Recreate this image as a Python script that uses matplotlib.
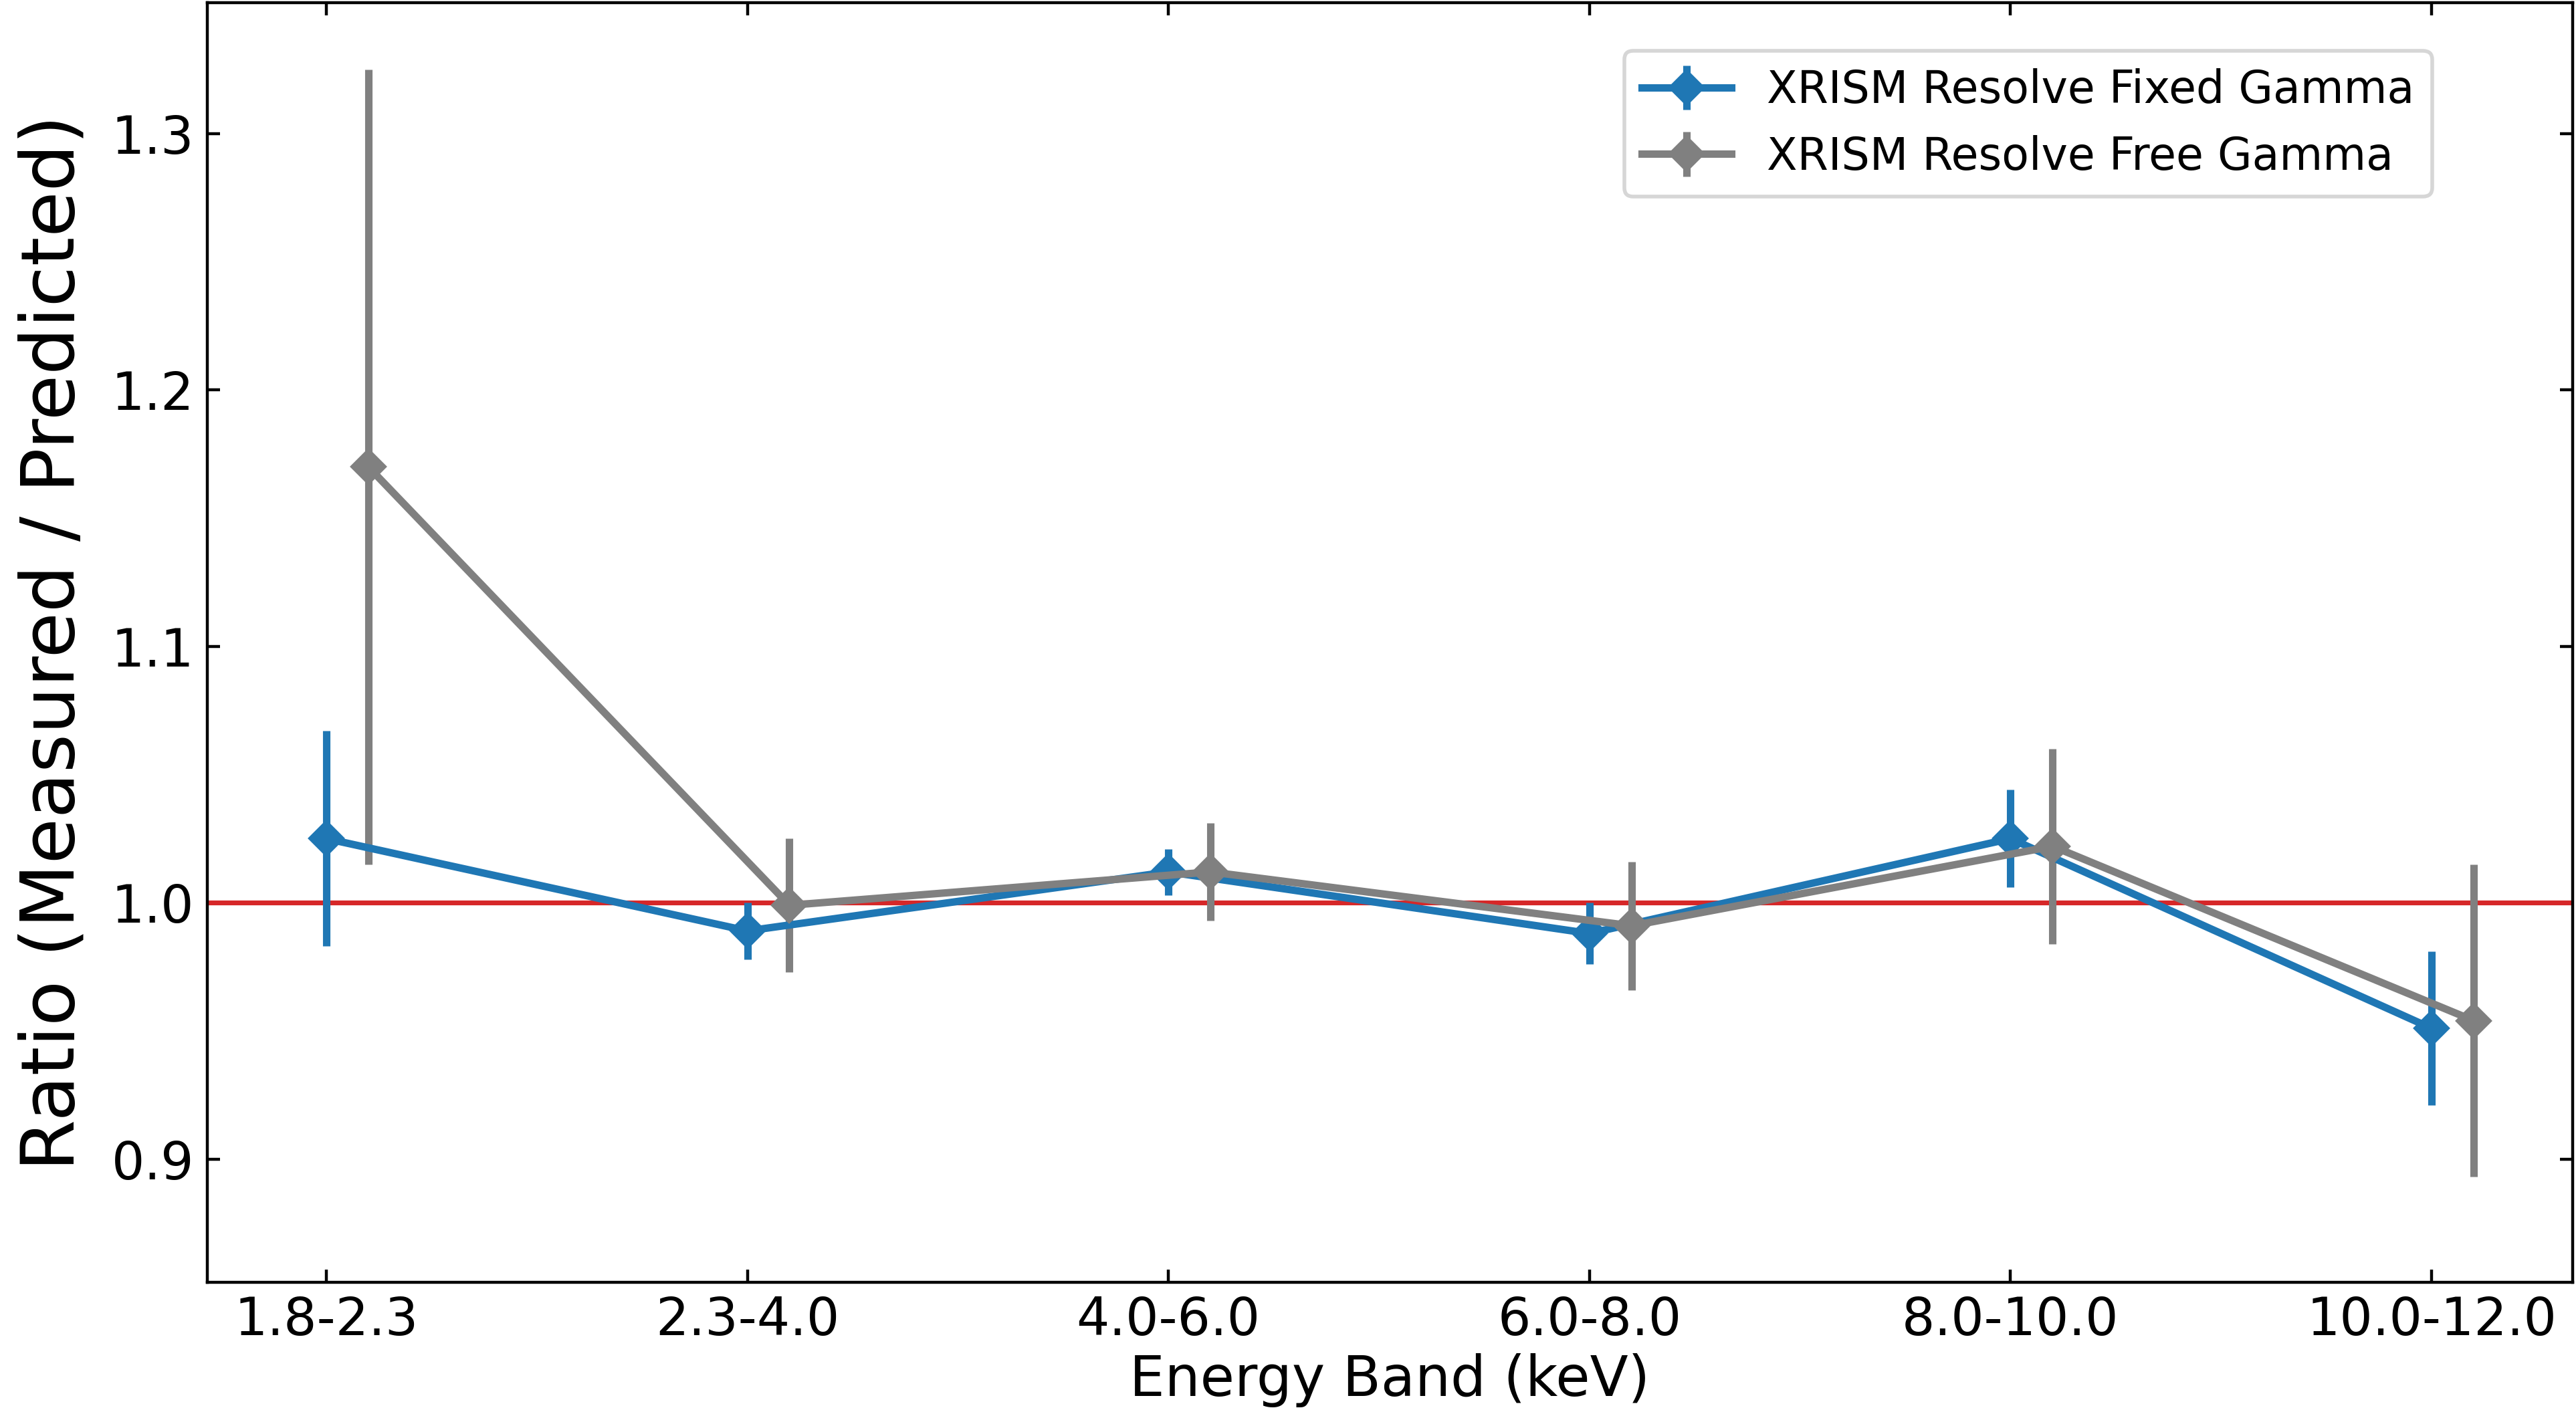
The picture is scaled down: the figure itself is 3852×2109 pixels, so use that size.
import matplotlib

matplotlib.use("Agg")
import matplotlib.pyplot as plt
import numpy as np

# Energy bands and measured/predicted ratios.
bands = ["1.8-2.3", "2.3-4.0", "4.0-6.0", "6.0-8.0", "8.0-10.0", "10.0-12.0"]

fixed_ratio = [1.025, 0.989, 1.012, 0.988, 1.025, 0.951]
fixed_err = [0.042, 0.011, 0.009, 0.012, 0.019, 0.030]

free_ratio = [1.170, 0.999, 1.012, 0.991, 1.022, 0.954]
free_err = [0.155, 0.026, 0.019, 0.025, 0.038, 0.061]

free_offset = 0.1


def main() -> None:
    fig = plt.figure(figsize=(9.63, 5.2725), dpi=400)
    ax = fig.add_axes([0.0804, 0.0907, 0.9183, 0.9073])

    x = np.arange(len(bands))

    ax.axhline(1.0, color="#d62728", lw=1.3)

    ax.errorbar(
        x,
        fixed_ratio,
        yerr=fixed_err,
        fmt="-D",
        color="#1f77b4",
        lw=2,
        elinewidth=2,
        capsize=0,
        label="XRISM Resolve Fixed Gamma",
    )
    ax.errorbar(
        x + free_offset,
        free_ratio,
        yerr=free_err,
        fmt="-D",
        color="gray",
        lw=2,
        elinewidth=2,
        capsize=0,
        label="XRISM Resolve Free Gamma",
    )

    ax.set_xticks(x)
    ax.set_xticklabels(bands)
    ax.set_yticks([0.9, 1.0, 1.1, 1.2, 1.3])
    ax.set_xlim(-0.283, 5.335)
    ax.set_ylim(0.852, 1.351)

    ax.tick_params(direction="in", top=True, right=True, labelsize=14)
    ax.set_xlabel("Energy Band (keV)", fontsize=15, labelpad=2)
    ax.set_ylabel("Ratio (Measured / Predicted)", fontsize=20, labelpad=6)

    ax.legend(
        loc="upper right",
        bbox_to_anchor=(0.95, 0.98),
        fontsize=12,
    )

    fig.savefig("out.png", dpi=400)
    plt.close(fig)


if __name__ == "__main__":
    main()
